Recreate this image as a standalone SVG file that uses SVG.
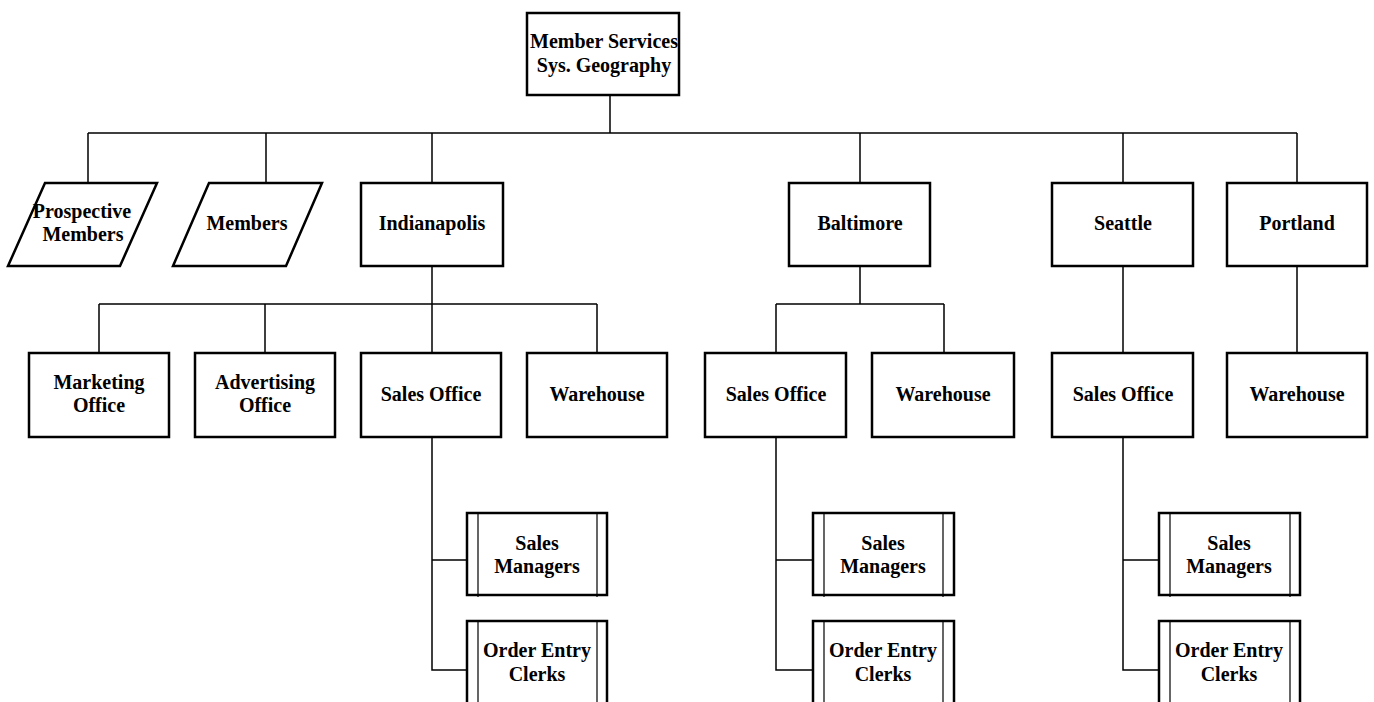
<svg xmlns="http://www.w3.org/2000/svg" width="1374" height="702" viewBox="0 0 1374 702">
<style>
.box{fill:#fff;stroke:#000;stroke-width:2.5}
.inner{stroke:#000;stroke-width:1.2;fill:none}
.conn{stroke:#000;stroke-width:1.5;fill:none}
text{font-family:"Liberation Serif","Times New Roman",serif;font-weight:bold;font-size:20px;text-anchor:middle;fill:#000}
</style>
<rect width="1374" height="702" fill="#fff"/>
<g id="connectors">
<path class="conn" d="M610 95V133M88 133H1297M88 133V183M266 133V183M432 133V183M860 133V183M1123 133V183M1297 133V183"/>
<path class="conn" d="M432 266V353M99 304H597M99 304V353M265 304V353M597 304V353"/>
<path class="conn" d="M860 266V304M776 304H944M776 304V353M944 304V353"/>
<path class="conn" d="M1123 266V353M1297 266V353"/>
<path class="conn" d="M432 437V670H467M432 560H467"/>
<path class="conn" d="M776 437V670H813M776 560H813"/>
<path class="conn" d="M1123 437V670H1159M1123 560H1159"/>
</g>
<g id="n-root"><rect class="box" x="527" y="13" width="152" height="82"/><text x="604" y="48">Member Services</text><text x="604" y="72">Sys. Geography</text></g>
<g id="n-prospective"><polygon class="box" points="45,183 157,183 120,266 8,266"/><text x="82" y="218">Prospective</text><text x="83" y="241">Members</text></g>
<g id="n-members"><polygon class="box" points="209,183 322,183 286,266 173,266"/><text x="247" y="230">Members</text></g>
<g id="n-indianapolis"><rect class="box" x="361" y="183" width="142" height="83"/><text x="432" y="230">Indianapolis</text></g>
<g id="n-baltimore"><rect class="box" x="789" y="183" width="141" height="83"/><text x="860" y="230">Baltimore</text></g>
<g id="n-seattle"><rect class="box" x="1052" y="183" width="141" height="83"/><text x="1123" y="230">Seattle</text></g>
<g id="n-portland"><rect class="box" x="1227" y="183" width="140" height="83"/><text x="1297" y="230">Portland</text></g>
<g id="n-ind-marketing"><rect class="box" x="29" y="353" width="140" height="84"/><text x="99" y="389">Marketing</text><text x="99" y="412">Office</text></g>
<g id="n-ind-advertising"><rect class="box" x="195" y="353" width="140" height="84"/><text x="265" y="389">Advertising</text><text x="265" y="412">Office</text></g>
<g id="n-ind-sales"><rect class="box" x="361" y="353" width="140" height="84"/><text x="431" y="401">Sales Office</text></g>
<g id="n-ind-warehouse"><rect class="box" x="527" y="353" width="140" height="84"/><text x="597" y="401">Warehouse</text></g>
<g id="n-bal-sales"><rect class="box" x="705" y="353" width="141" height="84"/><text x="776" y="401">Sales Office</text></g>
<g id="n-bal-warehouse"><rect class="box" x="872" y="353" width="142" height="84"/><text x="943" y="401">Warehouse</text></g>
<g id="n-sea-sales"><rect class="box" x="1052" y="353" width="141" height="84"/><text x="1123" y="401">Sales Office</text></g>
<g id="n-por-warehouse"><rect class="box" x="1227" y="353" width="140" height="84"/><text x="1297" y="401">Warehouse</text></g>
<g id="n-ind-managers"><rect class="box" x="467" y="513" width="140" height="82"/><path class="inner" d="M478 513V597M597 513V597"/><text x="537" y="550">Sales</text><text x="537" y="573">Managers</text></g>
<g id="n-ind-clerks"><rect class="box" x="467" y="621" width="140" height="83"/><path class="inner" d="M478 621V704M597 621V704"/><text x="537" y="657">Order Entry</text><text x="537" y="681">Clerks</text></g>
<g id="n-bal-managers"><rect class="box" x="813" y="513" width="141" height="82"/><path class="inner" d="M824 513V597M943 513V597"/><text x="883" y="550">Sales</text><text x="883" y="573">Managers</text></g>
<g id="n-bal-clerks"><rect class="box" x="813" y="621" width="141" height="83"/><path class="inner" d="M824 621V704M943 621V704"/><text x="883" y="657">Order Entry</text><text x="883" y="681">Clerks</text></g>
<g id="n-sea-managers"><rect class="box" x="1159" y="513" width="141" height="82"/><path class="inner" d="M1170 513V597M1290 513V597"/><text x="1229" y="550">Sales</text><text x="1229" y="573">Managers</text></g>
<g id="n-sea-clerks"><rect class="box" x="1159" y="621" width="141" height="83"/><path class="inner" d="M1170 621V704M1290 621V704"/><text x="1229" y="657">Order Entry</text><text x="1229" y="681">Clerks</text></g>
</svg>
